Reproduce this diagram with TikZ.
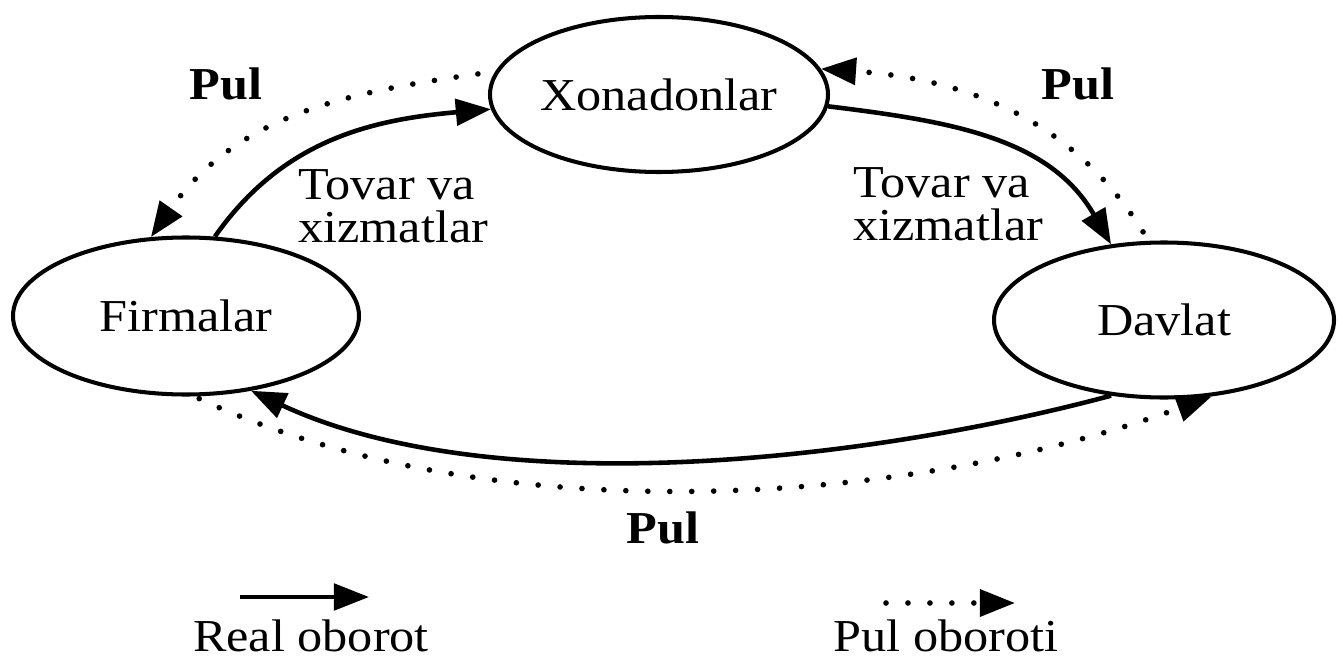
\documentclass[tikz,border=0pt]{standalone}
\usepackage{fontspec}
\setmainfont{Liberation Serif}[FakeStretch=1.1]
\usetikzlibrary{shapes.geometric, arrows.meta}

\begin{document}
\begin{tikzpicture}[
    sector/.style={ellipse, draw, line width=2.3pt, inner sep=0pt},
    real/.style={-{Triangle[length=20pt, width=15pt]}, line width=2.6pt},
    pul/.style={-{Triangle[length=20pt, width=15pt]}, line width=3.2pt,
                line cap=round, dash pattern=on 0pt off 12.5pt,
                shorten <=6pt},
    lbl/.style={align=left, inner sep=0pt},
    font=\fontsize{26}{24.5}\selectfont
]
\useasboundingbox (0, 0) rectangle (26.76, 13.24);

\node[sector, minimum width=6.76cm, minimum height=3.1cm] (xonadon) at (13.18, 11.35) {Xonadonlar};
\node[sector, minimum width=6.92cm, minimum height=3.14cm] (firma) at (3.72, 6.92) {Firmalar};
\node[sector, minimum width=6.8cm, minimum height=3.1cm] (davlat) at (23.28, 6.84) {Davlat};

\draw[real] (firma.70) to[out=55, in=185] (xonadon.185);
\draw[pul, shorten <=10pt] (xonadon.172) to[out=188, in=55] (firma.114);
\node (pulA) at (4.52, 11.56) {\textbf{Pul}};
\node[lbl, anchor=west] (tovarA) at (5.96, 9.12) {Tovar va\\xizmatlar};

\draw[real] (xonadon.-4) to[out=-7, in=120] (davlat.125);
\draw[pul] (davlat.101) to[out=122, in=-4] (xonadon.9);
\node (pulB) at (21.56, 11.56) {\textbf{Pul}};
\node[lbl, anchor=west] (tovarB) at (17.06, 9.16) {Tovar va\\xizmatlar};

\draw[real] (davlat.235) to[out=195, in=-25, looseness=0.78] (firma.-49);
\draw[pul, shorten <=3pt] (firma.-84) to[out=-25, in=200, looseness=0.82] (davlat.-58);
\node (pulC) at (13.26, 2.68) {\textbf{Pul}};

\coordinate (realA) at (4.8, 1.3);
\coordinate (realB) at (7.38, 1.3);
\draw[real] (realA) -- (realB);
\node (realtxt) at (6.22, 0.52) {Real oborot};

\coordinate (pulLA) at (17.72, 1.18);
\coordinate (pulLB) at (20.3, 1.18);
\draw[pul, shorten <=0pt] (pulLA) -- (pulLB);
\node (pultxt) at (18.92, 0.52) {Pul oboroti};
\end{tikzpicture}
\end{document}
